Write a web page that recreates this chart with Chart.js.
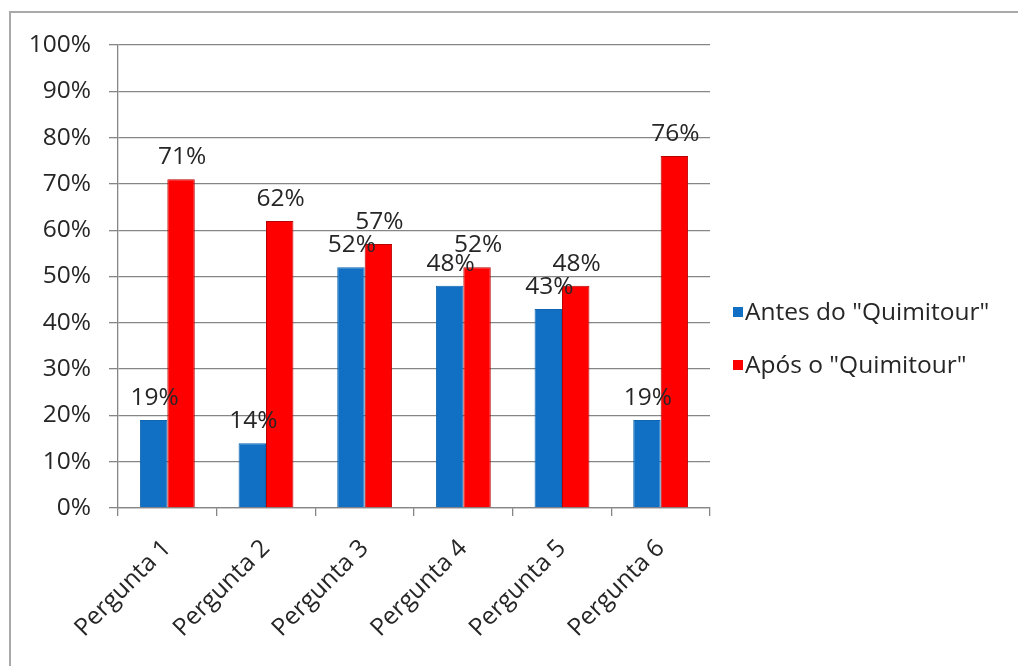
<!DOCTYPE html>
<html>
<head>
<meta charset="utf-8">
<script src="https://cdn.jsdelivr.net/npm/chart.js@4.4.1/dist/chart.umd.min.js"></script>
<style>
  html, body { margin: 0; padding: 0; background: #ffffff; overflow: hidden; }
  #frame {
    position: absolute; left: 9px; top: 11px; width: 1100px; height: 700px;
    border-left: 2px solid #a9a9a9; border-top: 2px solid #a9a9a9;
  }
  #wrap { position: absolute; left: 0; top: 0; width: 1018px; height: 666px; }
</style>
</head>
<body>
<div id="frame"></div>
<div id="wrap"><canvas id="c" width="1018" height="666"></canvas></div>
<script>
// Survey answers before and after the "Quimitour" activity (percent)
const categories = ['Pergunta 1', 'Pergunta 2', 'Pergunta 3', 'Pergunta 4', 'Pergunta 5', 'Pergunta 6'];
const antes = [19, 14, 52, 48, 43, 19];
const apos = [71, 62, 57, 52, 48, 76];
const seriesNames = ['Antes do "Quimitour"', 'Após o "Quimitour"'];
const yMin = 0;
const yMax = 100;
const yStep = 10;

const FONT = '"Open Sans", "DejaVu Sans", sans-serif';
const FONT_SIZE = 24.5;
const TEXT = '#262626';

// Value labels above each bar
const barLabels = {
  id: 'barLabels',
  afterDatasetsDraw(chart) {
    const ctx = chart.ctx;
    ctx.save();
    ctx.font = FONT_SIZE + 'px ' + FONT;
    ctx.fillStyle = TEXT;
    ctx.textAlign = 'center';
    ctx.textBaseline = 'alphabetic';
    chart.data.datasets.forEach((ds, di) => {
      const meta = chart.getDatasetMeta(di);
      meta.data.forEach((bar, i) => {
        ctx.fillText(ds.data[i] + '%', bar.x + 1, bar.y - 15);
      });
    });
    ctx.restore();
  }
};

// Legend to the right of the plot area
const sideLegend = {
  id: 'sideLegend',
  afterDraw(chart) {
    const ctx = chart.ctx;
    const area = chart.chartArea;
    const x0 = area.right + 23;
    const yc0 = 312;
    const rowGap = 53;
    ctx.save();
    ctx.font = FONT_SIZE + 'px ' + FONT;
    ctx.textAlign = 'left';
    ctx.textBaseline = 'middle';
    chart.data.datasets.forEach((ds, di) => {
      const yc = yc0 + di * rowGap;
      ctx.fillStyle = ds.backgroundColor;
      ctx.fillRect(x0, yc - 5, 10, 10);
      ctx.fillStyle = TEXT;
      ctx.fillText(ds.label, x0 + 12, yc + 1);
    });
    ctx.restore();
  }
};

new Chart(document.getElementById('c'), {
  type: 'bar',
  data: {
    labels: categories,
    datasets: [
      { label: seriesNames[0], data: antes, backgroundColor: '#1170c4', borderColor: '#0e64b0', borderWidth: 1 },
      { label: seriesNames[1], data: apos, backgroundColor: '#ff0000', borderColor: '#b80000', borderWidth: 1 }
    ]
  },
  options: {
    responsive: false,
    animation: false,
    devicePixelRatio: 1,
    layout: { padding: { left: 0, top: 45, right: 308, bottom: 0 } },
    datasets: { bar: { categoryPercentage: 0.556, barPercentage: 1.0 } },
    plugins: {
      legend: { display: false },
      tooltip: { enabled: false }
    },
    scales: {
      x: {
        afterFit(scale) { scale.height = 158; },
        grid: {
          drawOnChartArea: false, drawTicks: true, tickLength: 8,
          color: '#868686', lineWidth: 1.3, offset: true
        },
        border: { color: '#868686', width: 1.3 },
        ticks: {
          color: TEXT, font: { family: FONT, size: FONT_SIZE },
          minRotation: 45, maxRotation: 45, padding: 18, autoSkip: false
        }
      },
      y: {
        min: yMin, max: yMax,
        afterFit(scale) { scale.width = 118; },
        grid: { color: '#868686', lineWidth: 1.3, tickLength: 9 },
        border: { color: '#868686', width: 1.3 },
        ticks: {
          stepSize: yStep, color: TEXT, padding: 18,
          font: { family: FONT, size: FONT_SIZE },
          callback: (v) => v + '%'
        }
      }
    }
  },
  plugins: [barLabels, sideLegend]
});
</script>
</body>
</html>
